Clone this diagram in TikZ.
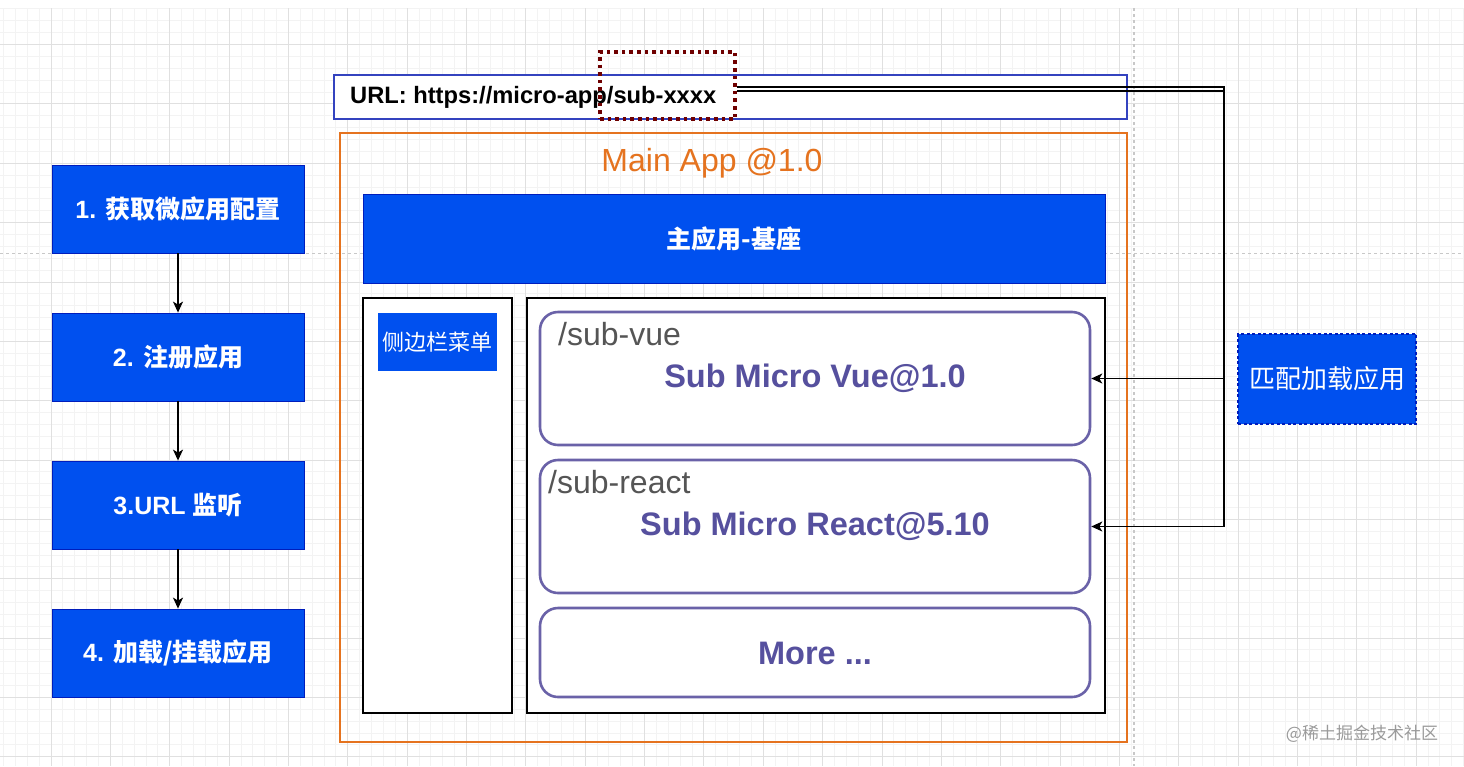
\documentclass[tikz,border=0pt]{standalone}
\usepackage{fontspec}
\setmainfont{Liberation Sans}
\newfontfamily\cjk{Noto Sans CJK SC}
\usetikzlibrary{arrows.meta,calc}
\definecolor{appblue}{HTML}{0050EF}
\definecolor{appbluedark}{HTML}{001DBC}
\definecolor{urlblue}{HTML}{3443BF}
\definecolor{mainorange}{HTML}{E5731F}
\definecolor{purptext}{HTML}{56509E}
\definecolor{purp}{HTML}{6A62A8}
\definecolor{dred}{HTML}{6F0000}
\definecolor{gridminor}{HTML}{F3F3F3}
\definecolor{gridmajor}{HTML}{E0E0E0}
\definecolor{subgray}{HTML}{555555}
\definecolor{pagebreak}{HTML}{C8C8C8}
\definecolor{wmgray}{HTML}{9A9A9A}
\tikzset{
  bluebox/.style={fill=appblue, draw=appbluedark, line width=0.8pt, text=white, inner sep=0pt, align=center},
  stepbox/.style={bluebox, minimum width=252pt, minimum height=88pt, font=\fontsize{25}{30}\selectfont\bfseries},
  plainbox/.style={draw=black, line width=1.3pt, fill=white, inner sep=0pt},
  subbox/.style={draw=purp, line width=2.6pt, rounded corners=18pt, fill=white, minimum width=550pt, inner sep=0pt},
  subtitle/.style={text=purptext, font=\fontsize{32.5}{38}\selectfont\bfseries, inner sep=0pt},
  subpath/.style={text=subgray, font=\fontsize{32}{38}\selectfont, inner sep=0pt, anchor=west},
  arr/.style={-{Stealth[length=11pt,width=10pt,inset=3pt]}, line width=1.4pt, black},
  minorline/.style={draw=gridminor, line width=0.8pt},
  majorline/.style={draw=gridmajor, line width=0.8pt},
}
\begin{document}
\begin{tikzpicture}[x=1pt,y=-1pt]
\useasboundingbox (0,0) rectangle (1464,766);
\fill[white] (0,0) rectangle (1464,766);
% grid
\foreach \i in {0,...,125} {\draw[minorline] ({-8.35+\i*11.87},8) -- ({-8.35+\i*11.87},766);}
\foreach \i in {0,...,66} {\draw[minorline] (0,{-14.85+\i*11.87}) -- (1464,{-14.85+\i*11.87});}
\foreach \i in {0,...,25} {\draw[majorline] ({-8.35+\i*59.35},8) -- ({-8.35+\i*59.35},766);}
\foreach \i in {1,...,13} {\draw[majorline] (0,{-14.85+\i*59.35}) -- (1464,{-14.85+\i*59.35});}
\draw[pagebreak, dashed, line width=1pt] (0,253) -- (1464,253);
\draw[pagebreak, dashed, line width=1.2pt] (1134,8) -- (1134,766);

% left steps
\node[stepbox] (s1) at (178,209) {1. {\cjk 获取微应用配置}};
\node[stepbox] (s2) at (178,357) {2. {\cjk 注册应用}};
\node[stepbox] (s3) at (178,505) {3.URL {\cjk 监听}};
\node[stepbox] (s4) at (178,653) {4. {\cjk 加载/挂载应用}};
\draw[arr] (s1) -- (s2);
\draw[arr] (s2) -- (s3);
\draw[arr] (s3) -- (s4);

% url bar
\node[draw=urlblue, line width=1.6pt, fill=white, minimum width=793pt, minimum height=44pt, inner sep=0pt] (url) at (730.5,97) {};
\node[anchor=west, inner sep=0pt, font=\fontsize{23.7}{28}\selectfont\bfseries] (urltext) at (350,97) {URL: https://micro-app/sub-xxxx};
\node[draw=dred, line width=3.6pt, dash pattern=on 3.6pt off 4pt, minimum width=135pt, minimum height=67pt, inner sep=0pt] (dot) at (667.5,85.5) {};

% main app
\node[draw=mainorange, line width=2.6pt, minimum width=787pt, minimum height=609pt, inner sep=0pt] (main) at (733.5,437.5) {};
\node[text=mainorange, font=\fontsize{32}{38}\selectfont, inner sep=0pt] (maintitle) at (712,163) {Main App @1.0};
\node[bluebox, minimum width=742pt, minimum height=89pt, font=\fontsize{25}{30}\selectfont\bfseries] (base) at (734,238.5) {{\cjk 主应用-基座}};

\node[plainbox, minimum width=149pt, minimum height=415pt] (side) at (437.5,505.5) {};
\node[bluebox, line width=0pt, draw=none, minimum width=119pt, minimum height=58pt, font=\cjk\fontsize{22}{26}\selectfont] (menu) at (437.5,342) {侧边栏菜单};

\node[plainbox, minimum width=578pt, minimum height=415pt] (content) at (816,505.5) {};
\node[subbox, minimum height=133pt] (vue) at (815,378.5) {};
\node[subpath] (vuepath) at (558,334) {/sub-vue};
\node[subtitle] (vuetitle) at (815,378) {Sub Micro Vue@1.0};
\node[subbox, minimum height=133pt] (react) at (815,526.5) {};
\node[subpath] (reactpath) at (548,482) {/sub-react};
\node[subtitle] (reacttitle) at (815,526) {Sub Micro React@5.10};
\node[subbox, minimum height=89pt] (more) at (815,652.5) {};
\node[subtitle] (moretitle) at (815,653) {More ...};

% match box
\node[bluebox, draw=appbluedark, line width=2.6pt, dash pattern=on 3pt off 2.5pt, minimum width=178pt, minimum height=90pt, font=\cjk\fontsize{26}{30}\selectfont] (match) at (1327,379) {匹配加载应用};

% connectors from url to sub apps
\coordinate (u1) at ($(dot.east)+(0,1.5)$);
\coordinate (u2) at ($(dot.east)+(0,5.5)$);
\coordinate (xline) at (1224,0);
\draw[arr] (u1) -- (u1 -| xline) |- (vue.east);
\draw[arr] (u2) -- (u2 -| xline) |- (react.east);

% watermark
\node[text=wmgray, font=\cjk\fontsize{17}{20}\selectfont, inner sep=0pt] (wm) at (1362,734) {@稀土掘金技术社区};
\end{tikzpicture}
\end{document}
